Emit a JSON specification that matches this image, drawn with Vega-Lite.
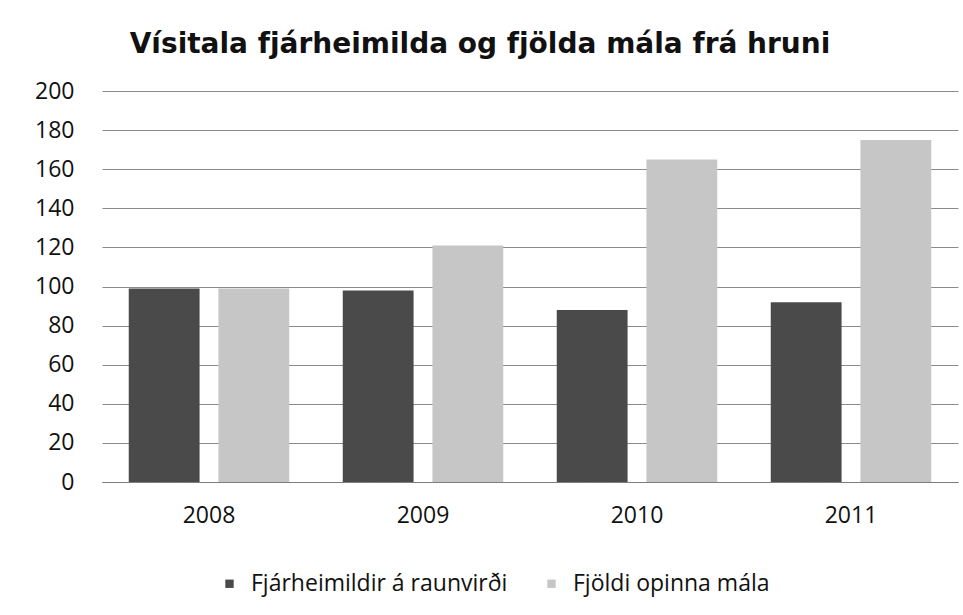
{
  "$schema": "https://vega.github.io/schema/vega-lite/v6.json",
  "width": 856,
  "height": 391,
  "autosize": {"type": "none"},
  "padding": {"left": 102, "top": 91, "right": 5, "bottom": 133},
  "background": "white",
  "title": {
    "text": "Vísitala fjárheimilda og fjölda mála frá hruni",
    "font": "DejaVu Sans",
    "fontSize": 28,
    "fontWeight": "bold",
    "color": "#111",
    "anchor": "middle",
    "dx": -50,
    "offset": 21
  },
  "data": {
    "values": [
      {"ar": "2008", "flokkur": "Fjárheimildir á raunvirði", "gildi": 99},
      {"ar": "2008", "flokkur": "Fjöldi opinna mála", "gildi": 99},
      {"ar": "2009", "flokkur": "Fjárheimildir á raunvirði", "gildi": 98},
      {"ar": "2009", "flokkur": "Fjöldi opinna mála", "gildi": 121},
      {"ar": "2010", "flokkur": "Fjárheimildir á raunvirði", "gildi": 88},
      {"ar": "2010", "flokkur": "Fjöldi opinna mála", "gildi": 165},
      {"ar": "2011", "flokkur": "Fjárheimildir á raunvirði", "gildi": 92},
      {"ar": "2011", "flokkur": "Fjöldi opinna mála", "gildi": 175}
    ]
  },
  "mark": {"type": "bar"},
  "encoding": {
    "x": {
      "field": "ar",
      "type": "nominal",
      "scale": {"paddingInner": 0.25, "paddingOuter": 0.125},
      "axis": {
        "title": null,
        "labelAngle": 0,
        "labelFont": "Open Sans",
        "labelFontSize": 23,
        "labelColor": "#111",
        "labelPadding": 22,
        "ticks": false,
        "domain": true,
        "domainColor": "#777",
        "domainDash": [2, 1]
      }
    },
    "xOffset": {
      "field": "flokkur",
      "type": "nominal",
      "scale": {"paddingInner": 0.21}
    },
    "y": {
      "field": "gildi",
      "type": "quantitative",
      "scale": {"domain": [0, 200], "nice": false},
      "axis": {
        "title": null,
        "values": [0, 20, 40, 60, 80, 100, 120, 140, 160, 180, 200],
        "labelFont": "Open Sans",
        "labelFontSize": 23,
        "labelColor": "#111",
        "labelPadding": 28,
        "ticks": false,
        "domain": false,
        "grid": true,
        "gridColor": "#8a8a8a",
        "gridWidth": 1
      }
    },
    "color": {
      "field": "flokkur",
      "type": "nominal",
      "scale": {
        "domain": ["Fjárheimildir á raunvirði", "Fjöldi opinna mála"],
        "range": ["#4a4a4a", "#c6c6c6"]
      },
      "legend": {
        "title": null,
        "orient": "none",
        "direction": "horizontal",
        "legendX": 116,
        "legendY": 481,
        "symbolType": "square",
        "symbolSize": 70,
        "symbolStrokeWidth": 0,
        "labelFont": "Open Sans",
        "labelFontSize": 23,
        "labelLimit": 400,
        "labelOffset": 10,
        "labelColor": "#111",
        "columnPadding": 32
      }
    }
  },
  "config": {
    "view": {"stroke": null}
  }
}
